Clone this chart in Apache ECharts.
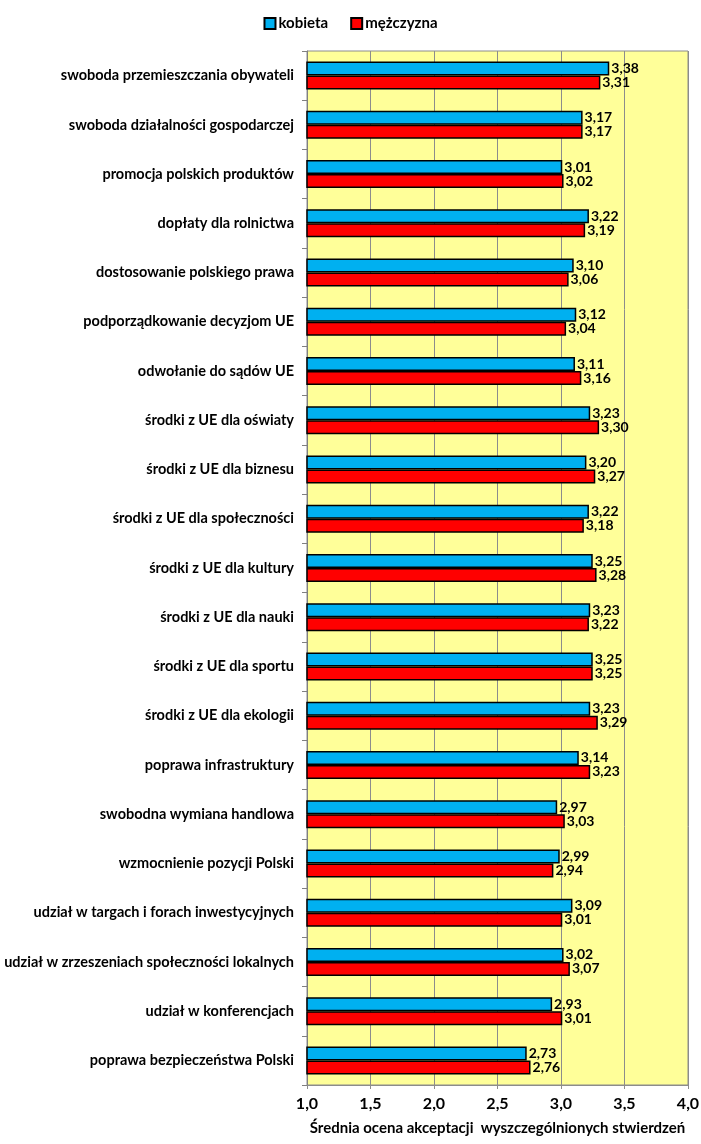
<!DOCTYPE html>
<html>
<head>
<meta charset="utf-8">
<script src="https://cdn.jsdelivr.net/npm/echarts@6/dist/echarts.min.js"></script>
<style>
  html, body { margin: 0; padding: 0; background: #fff; }
  #chart { width: 701px; height: 1144px; }
</style>
</head>
<body>
<div id="chart"></div>
<script>
const CATEGORIES = [
  'swoboda przemieszczania obywateli',
  'swoboda działalności gospodarczej',
  'promocja polskich produktów',
  'dopłaty dla rolnictwa',
  'dostosowanie polskiego prawa',
  'podporządkowanie decyzjom UE',
  'odwołanie do sądów UE',
  'środki z UE dla oświaty',
  'środki z UE dla biznesu',
  'środki z UE dla społeczności',
  'środki z UE dla kultury',
  'środki z UE dla nauki',
  'środki z UE dla sportu',
  'środki z UE dla ekologii',
  'poprawa infrastruktury',
  'swobodna wymiana handlowa',
  'wzmocnienie pozycji Polski',
  'udział w targach i forach inwestycyjnych',
  'udział w zrzeszeniach społeczności lokalnych',
  'udział w konferencjach',
  'poprawa bezpieczeństwa Polski'
]
const KOBIETA = [3.38, 3.17, 3.01, 3.22, 3.10, 3.12, 3.11, 3.23, 3.20, 3.22, 3.25, 3.23, 3.25, 3.23, 3.14, 2.97, 2.99, 3.09, 3.02, 2.93, 2.73]
const MEZCZYZNA = [3.31, 3.17, 3.02, 3.19, 3.06, 3.04, 3.16, 3.30, 3.27, 3.18, 3.28, 3.22, 3.25, 3.29, 3.23, 3.03, 2.94, 3.01, 3.07, 3.01, 2.76]
const X_MIN = 1.0
const X_MAX = 4.0
const X_STEP = 0.5

const FONT = 'Lato, "Noto Sans", sans-serif'
const comma = v => v.toFixed(2).replace('.', ',')

const chart = echarts.init(document.getElementById('chart'))

const barLabel = {
  show: true,
  position: 'right',
  distance: 2,
  color: '#000',
  fontFamily: FONT,
  fontWeight: 'bold',
  fontSize: 14,
  formatter: p => comma(p.value)
}

const option = {
  backgroundColor: '#fff',
  animation: false,
  legend: {
    top: 11,
    left: 'center',
    itemWidth: 11,
    itemHeight: 11,
    itemGap: 22,
    icon: 'rect',
    textStyle: { fontFamily: FONT, fontWeight: 'bold', fontSize: 15, color: '#000', padding: [0, 0, 0, -2] },
    data: ['kobieta', 'mężczyzna']
  },
  grid: {
    left: 307,
    right: 13,
    top: 51,
    bottom: 59,
    outerBoundsMode: 'none',
    containLabel: false,
    show: true,
    backgroundColor: '#FFFF99',
    borderColor: '#8c8c8c',
    borderWidth: 1
  },
  xAxis: {
    type: 'value',
    min: X_MIN,
    max: X_MAX,
    interval: X_STEP,
    name: 'Średnia ocena akceptacji  wyszczególnionych stwierdzeń',
    nameLocation: 'middle',
    nameGap: 36,
    nameTextStyle: { fontFamily: FONT, fontWeight: 'bold', fontSize: 15, color: '#000' },
    axisLine: { show: true, lineStyle: { color: '#8c8c8c' } },
    axisTick: { show: true, length: 4, lineStyle: { color: '#8c8c8c' } },
    axisLabel: {
      fontFamily: FONT, fontWeight: 'bold', fontSize: 16, color: '#000', margin: 11,
      formatter: v => v.toFixed(1).replace('.', ',')
    },
    splitLine: { show: true, lineStyle: { color: '#8c8c8c', width: 1 } }
  },
  yAxis: {
    type: 'category',
    inverse: true,
    data: CATEGORIES,
    axisLine: { show: true, lineStyle: { color: '#808080' } },
    axisTick: { show: true, length: 5, alignWithLabel: false, lineStyle: { color: '#808080' } },
    axisLabel: { fontFamily: FONT, fontWeight: 'bold', fontSize: 14.5, color: '#000', margin: 13 }
  },
  series: [
    {
      name: 'kobieta',
      type: 'bar',
      data: KOBIETA,
      barWidth: 14,
      barGap: '0%',
      itemStyle: { color: '#00B0F0', borderColor: '#000', borderWidth: 1.5 },
      label: barLabel
    },
    {
      name: 'mężczyzna',
      type: 'bar',
      data: MEZCZYZNA,
      barWidth: 14,
      barGap: '0%',
      itemStyle: { color: '#FF0000', borderColor: '#000', borderWidth: 1.5 },
      label: barLabel
    }
  ]
}

chart.setOption(option)
</script>
</body>
</html>
